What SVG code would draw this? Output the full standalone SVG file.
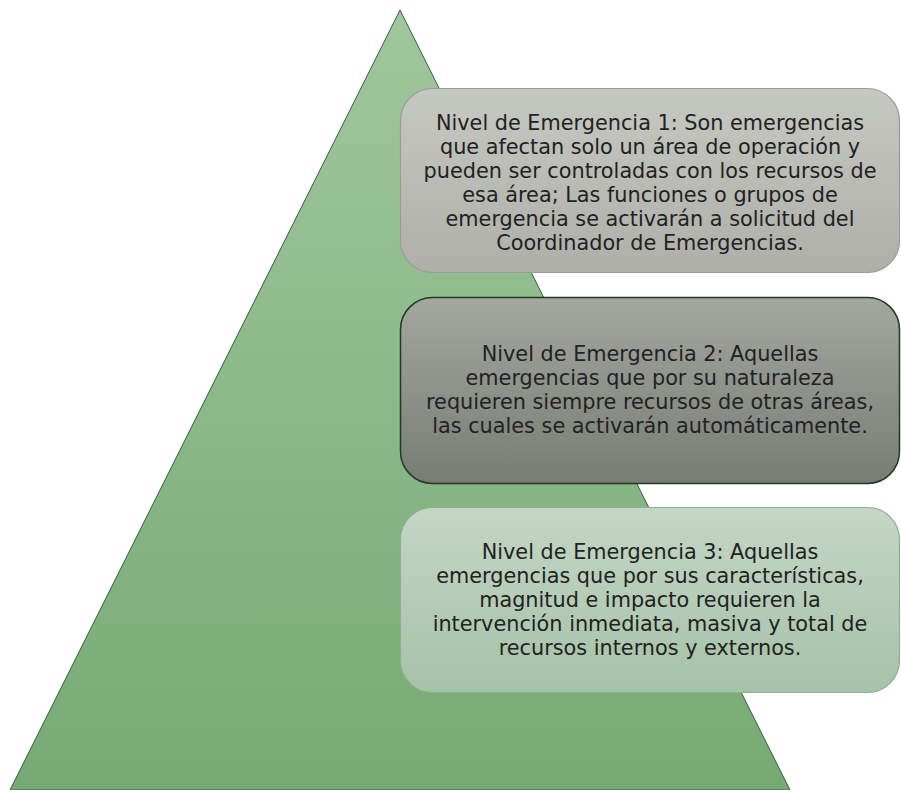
<svg xmlns="http://www.w3.org/2000/svg" width="901" height="790" viewBox="0 0 901 790">
<defs>
<linearGradient id="gTri" x1="0" y1="0" x2="0" y2="1">
<stop offset="0" stop-color="#a0c79e"/>
<stop offset="1" stop-color="#76aa74"/>
</linearGradient>
<linearGradient id="g1" x1="0" y1="0" x2="0" y2="1">
<stop offset="0" stop-color="#c6c8c2"/>
<stop offset="1" stop-color="#adafa8"/>
</linearGradient>
<linearGradient id="g2" x1="0" y1="0" x2="0" y2="1">
<stop offset="0" stop-color="#a3a7a0"/>
<stop offset="1" stop-color="#777c75"/>
</linearGradient>
<linearGradient id="g3" x1="0" y1="0" x2="0" y2="1">
<stop offset="0" stop-color="#c4d6c6"/>
<stop offset="1" stop-color="#a6c2a8"/>
</linearGradient>
</defs>
<style>
text{font-family:"DejaVu Sans",Verdana,sans-serif;font-size:20.8px;fill:#222;text-anchor:middle}
</style>
<g id="pyramid">
<polygon points="400,10 10,790 790,790" fill="url(#gTri)" stroke="#3d5a3c" stroke-width="1"/>
</g>
<g id="connectors"/>
<g id="level1">
<rect x="400.5" y="88.5" width="499" height="184" rx="32" fill="url(#g1)" stroke="#9a9c96" stroke-width="1.2"/>
<text x="650" y="130">Nivel de Emergencia 1: Son emergencias</text>
<text x="650" y="154">que afectan solo un área de operación y</text>
<text x="650" y="178">pueden ser controladas con los recursos de</text>
<text x="650" y="202">esa área; Las funciones o grupos de</text>
<text x="650" y="226">emergencia se activarán a solicitud del</text>
<text x="650" y="250">Coordinador de Emergencias.</text>
</g>
<g id="level2">
<rect x="400.5" y="297.5" width="499" height="186" rx="32" fill="url(#g2)" stroke="#223a22" stroke-width="1.5"/>
<text x="650" y="361">Nivel de Emergencia 2: Aquellas</text>
<text x="650" y="385">emergencias que por su naturaleza</text>
<text x="650" y="409">requieren siempre recursos de otras áreas,</text>
<text x="650" y="433">las cuales se activarán automáticamente.</text>
</g>
<g id="level3">
<rect x="400.5" y="507.5" width="499" height="185" rx="32" fill="url(#g3)" stroke="#8fb18f" stroke-width="1.2"/>
<text x="650" y="558.5">Nivel de Emergencia 3: Aquellas</text>
<text x="650" y="582.5">emergencias que por sus características,</text>
<text x="650" y="606.5">magnitud e impacto requieren la</text>
<text x="650" y="630.5">intervención inmediata, masiva y total de</text>
<text x="650" y="654.5">recursos internos y externos.</text>
</g>
</svg>
